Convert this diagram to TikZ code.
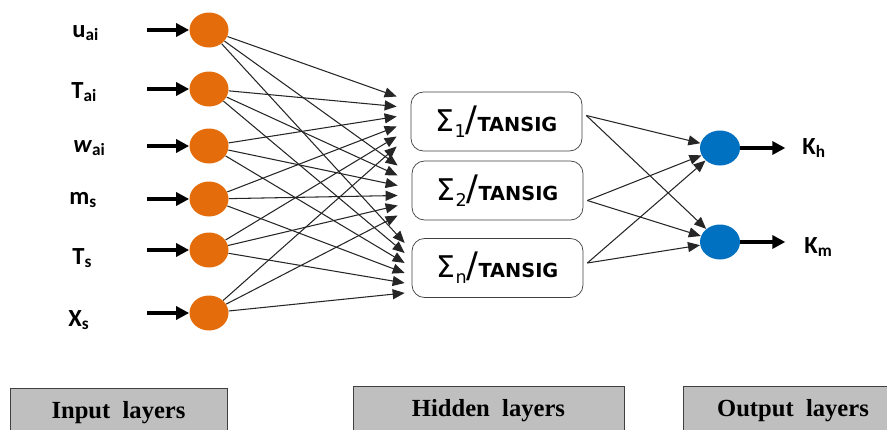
\documentclass[tikz,border=0pt]{standalone}
\usepackage{fontspec}
\setmainfont{Liberation Serif}
\newfontfamily\lblfont{Carlito}
\newfontfamily\sumfont{DejaVu Sans}
\usetikzlibrary{arrows.meta,shapes.geometric}
\tikzset{>={Triangle[length=2.4mm,width=2mm]}}
\definecolor{inorange}{RGB}{228,108,10}
\definecolor{outblue}{RGB}{0,112,192}
\newcommand{\hidtext}[1]{{\fontsize{17}{17}\selectfont Σ\raisebox{-0.35ex}{\fontsize{10}{10}\selectfont #1}\fontsize{20}{20}\selectfont/}{\fontsize{11}{11}\selectfont\bfseries TANSIG}}
\tikzset{
  neuronin/.style={ellipse,fill=inorange,minimum width=0.78cm,minimum height=0.7cm,inner sep=0pt},
  neuronout/.style={ellipse,fill=outblue,minimum width=0.8cm,minimum height=0.7cm,inner sep=0pt},
  hidbox/.style={draw=black!75,rounded corners=2.5mm,minimum width=3.42cm,minimum height=1.18cm,font=\sumfont},
  varlabel/.style={anchor=west,inner sep=0pt,font=\lblfont\bfseries\fontsize{14}{14}\selectfont},
  link/.style={->,black!85,line width=0.6pt},
  feed/.style={-{Triangle[length=2.6mm,width=2.6mm]},line width=1.8pt},
  layerbox/.style={draw=black!75,fill=black!25,anchor=north,text height=0.5cm,text depth=0.6cm,inner ysep=0.1cm,font=\bfseries\fontsize{14}{14}\selectfont}
}
\begin{document}
\begin{tikzpicture}
\path[use as bounding box] (0,0) rectangle (17.74,-8.6);
% input layer
\node (in1) [neuronin] at (4.18,-0.60) {};
\node (in2) [neuronin] at (4.18,-1.78) {};
\node (in3) [neuronin] at (4.18,-2.92) {};
\node (in4) [neuronin] at (4.18,-3.98) {};
\node (in5) [neuronin] at (4.18,-5.00) {};
\node (in6) [neuronin] at (4.18,-6.26) {};
\node (lab1) [varlabel] at (1.44,-0.66) {u\textsubscript{ai}};
\node (lab2) [varlabel] at (1.42,-1.84) {T\textsubscript{ai}};
\node (lab3) [varlabel] at (1.46,-2.96) {\textit{w}\textsubscript{ai}};
\node (lab4) [varlabel] at (1.38,-4.00) {m\textsubscript{s}};
\node (lab5) [varlabel] at (1.44,-5.16) {T\textsubscript{s}};
\node (lab6) [varlabel] at (1.36,-6.40) {X\textsubscript{s}};
\draw[feed] ([xshift=-0.84cm]in1.west) -- (in1);
\draw[feed] ([xshift=-0.84cm]in2.west) -- (in2);
\draw[feed] ([xshift=-0.84cm]in3.west) -- (in3);
\draw[feed] ([xshift=-0.84cm]in4.west) -- (in4);
\draw[feed] ([xshift=-0.84cm]in5.west) -- (in5);
\draw[feed] ([xshift=-0.84cm]in6.west) -- (in6);
% hidden layer
\node (hid1) [hidbox] at (9.93,-2.43) {\hidtext{1}};
\node (hid2) [hidbox] at (9.95,-3.81) {\hidtext{2}};
\node (hid3) [hidbox] at (9.95,-5.36) {\hidtext{n}};
\draw[link] (in1) -- ([xshift=-0.28cm,yshift=0.5cm]hid1.west);
\draw[link] (in1) -- ([xshift=-0.28cm,yshift=0.5cm]hid2.west);
\draw[link] (in1) -- ([xshift=-0.14cm,yshift=0.5cm]hid3.west);
\draw[link] (in2) -- ([xshift=-0.28cm,yshift=0.3cm]hid1.west);
\draw[link] (in2) -- ([xshift=-0.28cm,yshift=0.3cm]hid2.west);
\draw[link] (in2) -- ([xshift=-0.14cm,yshift=0.3cm]hid3.west);
\draw[link] (in3) -- ([xshift=-0.28cm,yshift=0.1cm]hid1.west);
\draw[link] (in3) -- ([xshift=-0.28cm,yshift=0.1cm]hid2.west);
\draw[link] (in3) -- ([xshift=-0.14cm,yshift=0.1cm]hid3.west);
\draw[link] (in4) -- ([xshift=-0.28cm,yshift=-0.1cm]hid1.west);
\draw[link] (in4) -- ([xshift=-0.28cm,yshift=-0.1cm]hid2.west);
\draw[link] (in4) -- ([xshift=-0.14cm,yshift=-0.1cm]hid3.west);
\draw[link] (in5) -- ([xshift=-0.28cm,yshift=-0.3cm]hid1.west);
\draw[link] (in5) -- ([xshift=-0.28cm,yshift=-0.3cm]hid2.west);
\draw[link] (in5) -- ([xshift=-0.14cm,yshift=-0.3cm]hid3.west);
\draw[link] (in6) -- ([xshift=-0.28cm,yshift=-0.5cm]hid1.west);
\draw[link] (in6) -- ([xshift=-0.28cm,yshift=-0.5cm]hid2.west);
\draw[link] (in6) -- ([xshift=-0.14cm,yshift=-0.5cm]hid3.west);
% output layer
\node (out1) [neuronout] at (14.40,-2.96) {};
\node (out2) [neuronout] at (14.40,-4.84) {};
\draw[link] ([xshift=0.08cm,yshift=0.12cm]hid1.east) -- (out1);
\draw[link] ([xshift=0.08cm,yshift=0.12cm]hid1.east) -- (out2);
\draw[link] ([xshift=0.08cm,yshift=-0.2cm]hid2.east) -- (out1);
\draw[link] ([xshift=0.08cm,yshift=-0.2cm]hid2.east) -- (out2);
\draw[link] ([xshift=0.08cm,yshift=0.1cm]hid3.east) -- (out1);
\draw[link] ([xshift=0.08cm,yshift=0.1cm]hid3.east) -- (out2);
\draw[feed] (out1) -- ([xshift=0.9cm]out1.east);
\draw[feed] (out2) -- ([xshift=0.9cm]out2.east);
\node (kh) [varlabel] at (16.04,-2.96) {K\textsubscript{h}};
\node (km) [varlabel] at (16.08,-4.94) {K\textsubscript{m}};
% layer captions
\begin{scope}
\clip (0,0) rectangle (17.74,-8.6);
\node (capin) [layerbox,minimum width=4.34cm] at (2.37,-7.76) {Input\ \ layers};
\node (caphid) [layerbox,minimum width=5.42cm] at (9.77,-7.72) {Hidden\ \ layers};
\node (capout) [layerbox,minimum width=4.4cm] at (15.86,-7.72) {Output\ \ layers};
\end{scope}
\end{tikzpicture}
\end{document}
